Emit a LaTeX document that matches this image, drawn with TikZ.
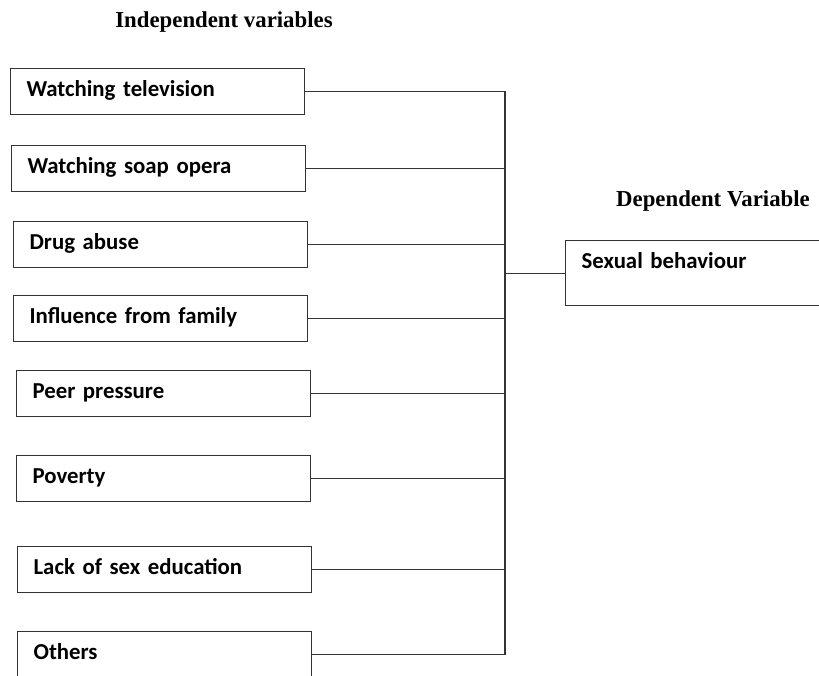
\documentclass[tikz,border=0pt]{standalone}
\usepackage{fontspec}
\setmainfont{Carlito}[WordSpace=0.35]
\newfontfamily\headfont{Liberation Serif}
\usetikzlibrary{calc}
\usetikzlibrary{positioning}
\tikzset{ivbox/.style={draw=black!80,line width=1.2pt,anchor=north west,minimum width=294pt,minimum height=46pt,inner xsep=16pt,text width=262pt,align=left,text height=13pt,text depth=4pt,font=\bfseries\fontsize{22.8}{25}\selectfont}}
\tikzset{dvbox/.style={draw=black!80,line width=1.2pt,anchor=north west,minimum width=300pt,inner xsep=16pt,inner ysep=15pt,text width=268pt,align=left,text height=13pt,text depth=22pt,font=\bfseries\fontsize{22.8}{25}\selectfont}}
\tikzset{link/.style={draw=black!80,line width=1.2pt,line cap=rect}}
\tikzset{head/.style={font=\headfont\bfseries\fontsize{22.8}{26}\selectfont}}

\begin{document}
\begin{tikzpicture}[x=1pt,y=-1pt]
\useasboundingbox (0,0) rectangle (819,675);
\node[head] (ivtitle) at (224,22) {Independent variables};
\node[head] (dvtitle) at (713,201) {Dependent Variable};
\foreach \i/\x/\y/\t in {1/10/68/Watching television,2/11/145/Watching soap opera,3/13/221/Drug abuse,4/13/295/Influence from family,5/16/370/Peer pressure,6/16/455/Poverty,7/17/546/Lack of sex education,8/17/631/Others} {
	\node[ivbox] (V\i) at (\x,\y) {\t};
}
\coordinate (bus) at (505,0);
\node[dvbox] (S) at (565,240) {Sexual behaviour};
\foreach \i in {1,...,8} {
	\draw[link] (V\i.east) -- (V\i.east -| bus);
}
\draw[link] (V1.east -| bus) -- (V8.east -| bus);
\draw[link] (S.west) -- (S.west -| bus);
\end{tikzpicture}
\end{document}
